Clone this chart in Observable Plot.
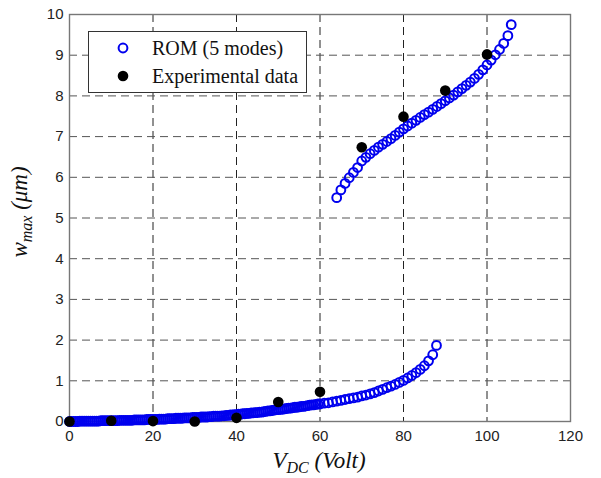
<!DOCTYPE html>
<html>
<head>
<meta charset="utf-8">
<script src="https://cdn.jsdelivr.net/npm/d3@7"></script>
<script src="https://cdn.jsdelivr.net/npm/@observablehq/plot@0.6"></script>
<style>
  html, body { margin: 0; padding: 0; background: #fff; }
  #chart svg { display: block; }
</style>
</head>
<body>
<div id="chart"></div>
<script>
// Reduced-order model (5 modes): lower stable branch, V_DC in volts, w_max in µm
const romLowV = [0,
  0.5,1,1.5,2,2.5,3,3.5,4,4.5,5,5.5,6,6.5,7,7.5,8,8.5,9,9.5,10,
  10.5,11,11.5,12,12.5,13,13.5,14,14.5,15,15.5,16,16.5,17,17.5,18,18.5,19,19.5,20,
  20.5,21,21.5,22,22.5,23,23.5,24,24.5,25,25.5,26,26.5,27,27.5,28,28.5,29,29.5,30,
  30.5,31,31.5,32,32.5,33,33.5,34,34.5,35,35.5,36,36.5,37,37.5,38,38.5,39,39.5,40,
  40.5,41,41.5,42,42.5,43,43.5,44,44.5,45,45.5,46,46.5,47,47.5,48,48.5,49,49.5,50,
  50.5,51,51.5,52,52.5,53,53.5,54,54.5,55,55.5,56,56.5,57,57.5,58,58.5,59,59.5,60,
  61,62,63,64,65,66,67,68,69,70,71,72,73,74,75,76,77,78,79,80,81,82,83,84,85,86,87,87.9];
const romLowW = [0.00,
  0.00,0.00,0.00,0.00,0.01,0.01,0.01,0.01,0.01,0.01,0.01,0.01,0.01,0.01,0.02,0.02,0.02,0.02,0.02,0.02,
  0.02,0.02,0.02,0.03,0.03,0.03,0.03,0.03,0.03,0.03,0.04,0.04,0.04,0.04,0.04,0.04,0.05,0.05,0.05,0.05,
  0.05,0.05,0.06,0.06,0.06,0.06,0.07,0.07,0.07,0.07,0.08,0.08,0.08,0.08,0.09,0.09,0.09,0.09,0.10,0.10,
  0.10,0.10,0.11,0.11,0.11,0.11,0.12,0.12,0.13,0.13,0.13,0.13,0.14,0.14,0.15,0.15,0.16,0.16,0.17,0.17,
  0.18,0.18,0.19,0.19,0.20,0.20,0.21,0.21,0.22,0.22,0.23,0.23,0.24,0.25,0.26,0.26,0.27,0.28,0.29,0.29,
  0.30,0.30,0.31,0.32,0.33,0.33,0.34,0.35,0.35,0.36,0.37,0.37,0.38,0.39,0.40,0.41,0.41,0.42,0.43,0.43,
  0.45,0.46,0.48,0.50,0.52,0.54,0.56,0.58,0.60,0.63,0.65,0.68,0.71,0.75,0.79,0.83,0.87,0.91,0.96,1.01,
  1.07,1.13,1.20,1.28,1.37,1.49,1.64,1.87];

// Reduced-order model: upper branch
const romHighV = [64,65,66,67,68,69,70,71,72,73,74,75,76,77,78,79,80,81,82,83,84,85,86,87,88,89,90,
  91,92,93,94,95,96,97,98,99,100,101,102,103,104,105,105.8];
const romHighW = [5.50,5.69,5.85,5.99,6.12,6.24,6.40,6.49,6.58,6.66,6.74,6.81,6.88,6.95,7.03,7.11,7.19,
  7.26,7.33,7.40,7.47,7.54,7.60,7.67,7.74,7.81,7.88,7.95,8.02,8.10,8.18,8.26,8.34,8.43,8.53,8.64,8.76,
  8.88,9.01,9.14,9.29,9.48,9.75];

// Measured deflections
const expV = [0,10,20,30,40,50,60,70,80,90,100];
const expW = [0.00,0.02,0.01,0.00,0.09,0.48,0.73,6.74,7.49,8.13,9.02];

const xTicks = [0,20,40,60,80,100,120];
const yTicks = [0,1,2,3,4,5,6,7,8,9,10];
const legendLabels = ["ROM (5 modes)", "Experimental data"];

const rom = romLowV.map((v, i) => ({v, w: romLowW[i]}))
  .concat(romHighV.map((v, i) => ({v, w: romHighW[i]})));
const exp = expV.map((v, i) => ({v, w: expW[i]}));

const W = 601, H = 478;
const margin = {left: 69, right: 31, top: 14, bottom: 57};
const dash = "8,5";

const plot = Plot.plot({
  width: W,
  height: H,
  marginLeft: margin.left,
  marginRight: margin.right,
  marginTop: margin.top,
  marginBottom: margin.bottom,
  style: {fontFamily: "'Liberation Sans', Arial, sans-serif", fontSize: "15px", color: "#222", background: "#fff"},
  x: {domain: [0, 120], ticks: xTicks},
  y: {domain: [0, 10], ticks: yTicks},
  marks: [
    Plot.ruleX(xTicks.slice(1, -1), {stroke: "#222", strokeWidth: 1, strokeDasharray: dash}),
    Plot.ruleY(yTicks.slice(1, -1), {stroke: "#555", strokeWidth: 1, strokeDasharray: dash}),
    Plot.frame({stroke: "#777", strokeWidth: 1.4}),
    Plot.axisX({ticks: xTicks, tickSize: 0, tickPadding: 9, label: null, fontSize: 15}),
    Plot.axisY({ticks: yTicks, tickSize: 0, tickPadding: 6, label: null, fontSize: 15}),
    Plot.dot(rom, {x: "v", y: "w", r: 4.4, stroke: "#0000ee", strokeWidth: 2, fill: "none"}),
    Plot.dot(exp, {x: "v", y: "w", r: 5.3, fill: "#000", stroke: "none"})
  ]
});

document.getElementById("chart").appendChild(plot);

// Axis titles with subscripts, and the legend box
const svg = d3.select(plot);
const serif = "'Liberation Serif', 'Times New Roman', serif";

const xt = svg.append("text")
  .attr("x", 319).attr("y", 468)
  .attr("text-anchor", "middle")
  .attr("font-family", serif).attr("font-size", 23).attr("font-style", "italic").attr("fill", "#111");
xt.append("tspan").text("V");
xt.append("tspan").attr("font-size", 16).attr("dy", 5).text("DC");
xt.append("tspan").attr("dy", -5).text(" (Volt)");

const yt = svg.append("text")
  .attr("transform", "translate(27,212) rotate(-90)")
  .attr("text-anchor", "middle")
  .attr("font-family", serif).attr("font-size", 23).attr("font-style", "italic").attr("fill", "#111");
yt.append("tspan").text("w");
yt.append("tspan").attr("font-size", 16).attr("dy", 5).text("max");
yt.append("tspan").attr("dy", -5).text(" (μm)");

const lg = svg.append("g");
lg.append("rect").attr("x", 88.5).attr("y", 31.5).attr("width", 218).attr("height", 61)
  .attr("fill", "#fff").attr("stroke", "#333").attr("stroke-width", 1);
lg.append("circle").attr("cx", 123).attr("cy", 48).attr("r", 4.4)
  .attr("fill", "none").attr("stroke", "#0000ee").attr("stroke-width", 2);
lg.append("circle").attr("cx", 123).attr("cy", 76).attr("r", 5.3).attr("fill", "#000");
legendLabels.forEach((t, i) => {
  lg.append("text").attr("x", 152).attr("y", 48 + i * 28).attr("dy", "0.35em")
    .attr("text-anchor", "start")
    .attr("font-family", serif).attr("font-size", 20).attr("fill", "#111").text(t);
});
</script>
</body>
</html>
